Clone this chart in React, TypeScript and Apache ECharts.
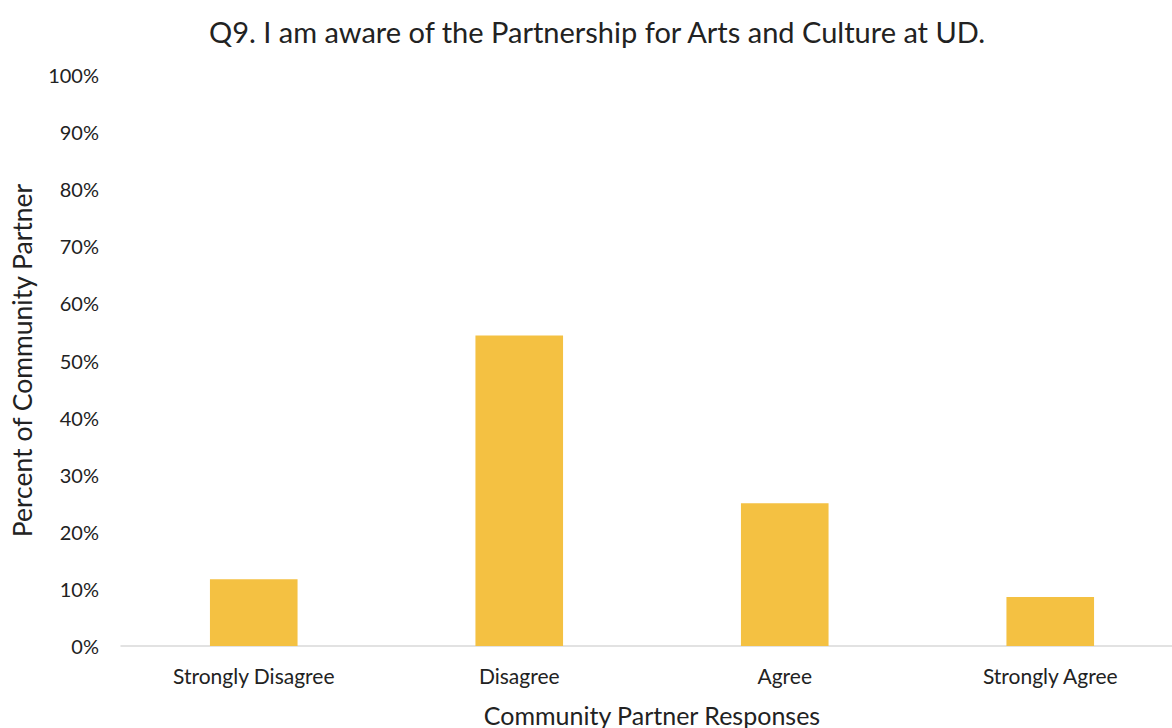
import React, { useEffect, useRef } from "react";
import * as echarts from "echarts";

const categories = ["Strongly Disagree", "Disagree", "Agree", "Strongly Agree"];
const values = [11.7, 54.4, 25.0, 8.6];
const yTicks = [0, 10, 20, 30, 40, 50, 60, 70, 80, 90, 100];
const titleText = "Q9. I am aware of the Partnership for Arts and Culture at UD.";
const xAxisName = "Community Partner Responses";
const yAxisName = "Percent of Community Partner";

const FONT = "Lato, 'Open Sans', sans-serif";

export default function App() {
  const ref = useRef<HTMLDivElement>(null);
  useEffect(() => {
    if (!ref.current) return;
    const chart = echarts.init(ref.current, undefined, { renderer: "svg" });
    chart.setOption({
      animation: false,
      backgroundColor: "#ffffff",
      title: {
        text: titleText,
        left: 592,
        top: 12,
        textAlign: "center",
        textStyle: { fontFamily: FONT, fontSize: 29, fontWeight: "normal", color: "#222222" },
      },
      grid: {
        left: 121,
        top: 75,
        width: 1062,
        height: 571,
        containLabel: false,
        outerBoundsMode: "none",
      },
      xAxis: {
        type: "category",
        data: categories,
        name: xAxisName,
        nameLocation: "middle",
        nameGap: 56,
        nameTextStyle: { fontFamily: FONT, fontSize: 25, color: "#222222" },
        axisLine: { lineStyle: { color: "#d9d9d9", width: 1.5 } },
        axisTick: { show: false },
        axisLabel: { fontFamily: FONT, fontSize: 21, color: "#222222", margin: 19 },
      },
      yAxis: {
        type: "value",
        min: 0,
        max: 100,
        interval: 10,
        name: yAxisName,
        nameLocation: "middle",
        nameGap: 86,
        nameTextStyle: { fontFamily: FONT, fontSize: 26.5, color: "#222222" },
        axisLine: { show: false },
        axisTick: { show: false },
        splitLine: { show: false },
        axisLabel: {
          fontFamily: FONT,
          fontSize: 20,
          color: "#222222",
          margin: 22,
          formatter: (v: number) => (yTicks.includes(v) ? v + "%" : ""),
        },
      },
      series: [
        {
          type: "bar",
          data: values,
          barWidth: "33%",
          itemStyle: { color: "#F4C142" },
        },
      ],
    });
    return () => chart.dispose();
  }, []);
  return (
    <div
      ref={ref}
      style={{ position: "fixed", left: 0, top: 0, width: 1172, height: 728 }}
    />
  );
}
